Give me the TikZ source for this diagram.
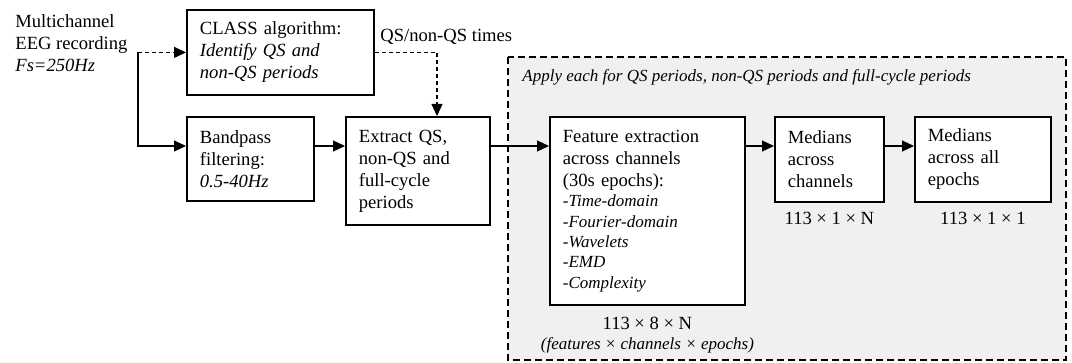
\documentclass[tikz,border=0pt]{standalone}
\usepackage{fontspec}
\setmainfont{Liberation Serif}
\usetikzlibrary{arrows.meta,positioning}

\begin{document}
\begin{tikzpicture}[x=0.5pt,y=-0.5pt,
  font=\fontsize{9.3}{11}\selectfont,
  block/.style={draw,line width=0.9pt,fill=white,anchor=north west,align=left,inner xsep=6.5pt,inner ysep=0pt},
  flow/.style={line width=0.6pt,-{Triangle[length=6pt,width=5.5pt]}},
  hint/.style={flow,dash pattern=on 2pt off 1.5pt},
  note/.style={font=\fontsize{8.5}{10}\selectfont\itshape,inner sep=0pt},
  dims/.style={inner sep=0pt}]

\def\arrowrow{146};
\def\tapx{437};

\useasboundingbox (0,0) rectangle (1072,363);
\fill[gray!12] (508,57) rectangle (1066,360);
\draw[line width=0.6pt,dash pattern=on 3.5pt off 2pt] (508,57) rectangle (1066,360);
\node[note,anchor=west] (apply) at (522,77) {Apply each for QS periods, non-QS periods and full-cycle periods};

\node[anchor=west,align=left,inner sep=0pt] (eeg) at (15,43) {Multichannel\\EEG recording\\\textit{Fs=250Hz}};
\node[block,text width=80.5pt,minimum height=42.5pt] (class) at (186,9) {CLASS algorithm:\\\textit{Identify QS and}\\\textit{non-QS periods}};
\node[block,text width=50.5pt,minimum height=42pt] (band) at (186,116) {Bandpass\\filtering:\\\textit{0.5-40Hz}};
\node[block,text width=59pt,minimum height=54pt] (extract) at (345,116) {Extract QS,\\non-QS and\\full-cycle\\periods};
\node[block,text width=84.5pt,minimum height=94pt] (feat) at (549,116) {Feature extraction\\across channels\\(30s epochs):\\[-0.8pt]
  {\fontsize{8.5}{10}\selectfont\itshape -Time-domain}\\[-0.8pt]
  {\fontsize{8.5}{10}\selectfont\itshape -Fourier-domain}\\[-0.8pt]
  {\fontsize{8.5}{10}\selectfont\itshape -Wavelets}\\[-0.8pt]
  {\fontsize{8.5}{10}\selectfont\itshape -EMD}\\[-0.8pt]
  {\fontsize{8.5}{10}\selectfont\itshape -Complexity}};
\node[block,text width=41.5pt,minimum height=42.5pt] (medch) at (774,116) {Medians\\across\\channels};
\node[block,text width=55pt,minimum height=42.5pt] (medep) at (914,116) {Medians\\across all\\epochs};

\node[dims,below=5.5pt of feat] (featdim) {113 × 8 × N};
\node[note,below=3.5pt of featdim] (featlegend) {(features × channels × epochs)};
\node[dims,below=4.5pt of medch] (medchdim) {113 × 1 × N};
\node[dims,below=4.5pt of medep] (medepdim) {113 × 1 × 1};

\coordinate (row) at (0,\arrowrow);
\coordinate (tap) at (\tapx,0);
\path (class.west) ++(-48,0) coordinate (split);
\draw[hint] (split) -- (class.west);
\draw[flow] (split) |- (band.west |- row);
\draw[flow] (band.east |- row) -- (extract.west |- row);
\draw[flow] (extract.east |- row) -- (feat.west |- row);
\draw[flow] (feat.east |- row) -- (medch.west |- row);
\draw[flow] (medch.east |- row) -- (medep.west |- row);
\draw[hint] (class.east) -| (tap |- extract.north);
\node[anchor=west,inner sep=0pt] (times) at (380,37) {QS/non-QS times};
\end{tikzpicture}
\end{document}
